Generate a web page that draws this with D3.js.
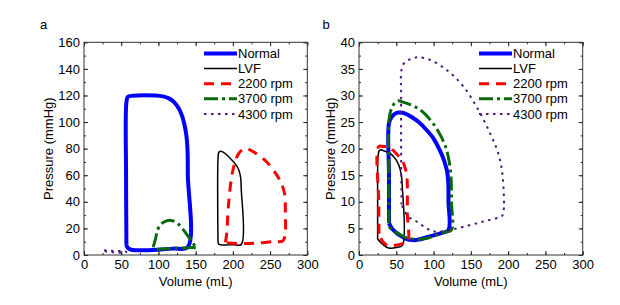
<!DOCTYPE html>
<html><head><meta charset="utf-8">
<script src="https://cdn.jsdelivr.net/npm/d3@7"></script>
<style>
html,body{margin:0;padding:0;background:#fff;}
svg{display:block;font-family:"Liberation Sans",Arial,sans-serif;}
</style></head>
<body><svg id="c" width="620" height="305"></svg>
<script>
// ---------- data ----------
const seriesNames = ["Normal", "LVF", "2200 rpm", "3700 rpm", "4300 rpm"];
const xTicks = [0, 50, 100, 150, 200, 250, 300];
const yTicksA = [0, 20, 40, 60, 80, 100, 120, 140, 160];
const yTicksB = [0, 5, 10, 15, 20, 25, 30, 35, 40];

// Panel a: [volume (mL), pressure (mmHg)]
const normalA = [[57,8],[56.5,60],[57,115],[59,119],[65,119.8],[96,120],[106,119.3],[114,117.8],[121,115],[127,110.5],[131.5,105],[135,98],[137.5,90],[139,80],[139.5,60],[139.5,6],[120,4.8],[100,4],[75,3.6],[62,4.3],[58,6],[57,8]];
const lvfA = [[180,10],[179.6,40],[180,72],[181,77],[183,78],[188,77],[196,73],[204,68],[208,64],[210.5,58],[211.2,50],[211.4,8],[200,7.7],[185,7.6],[181,8.2],[180,10]];
const rpm2200A = [[190,9.5],[191.7,16],[193.9,36],[198.4,59],[203,70],[208,76.5],[214,79.5],[219,80],[227.5,77.7],[245.5,70],[258,61],[265,54],[269.5,46],[270.5,31],[270,14],[267,10.5],[254,10],[230,8.8],[209,8.6],[195,9],[190,9.5]];
const rpm3700A = [[93,6],[96,12],[99,19],[103,23],[110,25.5],[117,26],[124,24.5],[132,20],[140,14],[146,9],[151.5,5.2],[147,5.6],[135,5.3],[118,5],[102,4.3],[95,4.6],[93,6]];
const rpm4300A = [[27,3.5],[35,3.2],[45,3],[55,2.8],[57,2.2],[50,1.8],[40,2],[30,2.6],[27,3.5]];

// Panel b
const normalB = [[40.2,6],[40.2,15],[40.2,24.8],[44,26],[50,26.7],[55,26.8],[62,26.6],[70,26],[80,25],[90,23.6],[100,21.9],[108,19.8],[114,17.8],[118,15.8],[119.8,13.5],[120,10],[120,4.7],[110,4.1],[100,3.7],[90,3.3],[80,2.9],[72,2.8],[64,3],[56,3.6],[50,4.2],[44,5],[40.2,6]];
const lvfB = [[25,3],[25,10],[25.5,18.5],[27,19.6],[29,19.8],[33,19.6],[41.6,19.1],[47,18.4],[51,17.6],[55,16.2],[57.2,14.5],[58,13],[58.2,1.8],[50,1.4],[42.5,1.25],[37,1.45],[30,2.2],[25,3]];
const rpm2200B = [[26.8,4],[26.5,10],[26.5,20.4],[33,20.4],[40.5,20.4],[45,19.8],[50,19.1],[55,18.3],[59,17.5],[62,16.3],[64,15],[64.8,13],[64.8,8],[65.5,2.5],[60,2.2],[55,2.0],[48,1.8],[41.6,1.6],[35,2.1],[30.4,2.8],[26.8,4]];
const rpm3700B = [[40,6],[40,15],[40,25],[43,27.3],[48,28.6],[53,29],[60,28.7],[70,28.2],[80,27.5],[90,26.3],[100,24.6],[110,22.3],[117,20],[121,17.5],[123.5,14.5],[124,10],[124,4.7],[115,4.3],[105,3.8],[95,3.3],[85,3],[77,2.9],[68,3.1],[60,3.4],[53,4],[46,4.6],[41,5.2],[40,6]];
const rpm4300B = [[57,9.5],[56.5,20],[56.5,30],[57,34.8],[61.7,36.3],[72.8,37],[79.5,37.2],[95.2,36.7],[117.6,34.8],[140,31.7],[160,27.3],[175.7,22.9],[186.8,19.1],[192.7,14.7],[193.5,7.8],[191.4,7.3],[166.7,6.3],[140,5.3],[122,4.7],[101.9,4.4],[90.8,5],[77.4,6.3],[66,7.2],[57,9.5]];

// ---------- styles ----------
const styles = [
  {color:"#0000ff", width:4, dash:null},
  {color:"#000000", width:1.5, dash:null},
  {color:"#ff0000", width:3, dash:"10,7"},
  {color:"#0a6a0a", width:3, dash:"14,4,3,4"},
  {color:"#4e1a7e", width:2, dash:"2.5,4.5"}
];

const svg = d3.select("#c");
const FONT = "Liberation Sans, Arial, sans-serif";

function panel(cfg) {
  const g = svg.append("g");
  const x = d3.scaleLinear().domain([0,300]).range([cfg.left, cfg.right]);
  const y = d3.scaleLinear().domain(cfg.yDomain).range([255, 42.3]);

  // series
  const line = d3.line().x(d => x(d[0])).y(d => y(d[1])).curve(d3.curveCatmullRom.alpha(0.5));
  cfg.series.forEach((s, i) => {
    const st = styles[i];
    g.append("path").attr("d", line(s)).attr("fill","none")
      .attr("stroke", st.color).attr("stroke-width", st.width)
      .attr("stroke-dasharray", st.dash).attr("stroke-linejoin","round");
  });

  // axes with inward ticks on all sides
  const minorX = d3.range(0, 301, 25);
  const minorY = d3.range(cfg.yDomain[0], cfg.yDomain[1] + 0.001, cfg.minorStep);
  const axStyle = sel => { sel.select(".domain").remove(); sel.selectAll("line").attr("stroke","#222"); };
  const txtStyle = s => s.selectAll("text").attr("font-size",13).attr("fill","#000").attr("font-family",FONT);

  g.append("g").attr("transform","translate(0,255)")
    .call(d3.axisBottom(x).tickValues(minorX).tickSize(-2).tickFormat(""))
    .call(axStyle);
  g.append("g").attr("transform","translate(0,255)")
    .call(d3.axisBottom(x).tickValues(xTicks).tickSize(-4).tickPadding(4.5).tickFormat(d3.format("d")))
    .call(axStyle).call(txtStyle);
  g.append("g").attr("transform","translate(0,42.3)")
    .call(d3.axisTop(x).tickValues(minorX).tickSize(-2).tickFormat("")).call(axStyle);
  g.append("g").attr("transform","translate(0,42.3)")
    .call(d3.axisTop(x).tickValues(xTicks).tickSize(-4).tickFormat("")).call(axStyle);

  g.append("g").attr("transform",`translate(${cfg.left},0)`)
    .call(d3.axisLeft(y).tickValues(minorY).tickSize(-2).tickFormat("")).call(axStyle);
  g.append("g").attr("transform",`translate(${cfg.left},0)`)
    .call(d3.axisLeft(y).tickValues(cfg.yTicks).tickSize(-4).tickPadding(4).tickFormat(d3.format("d")))
    .call(axStyle).call(txtStyle);
  g.append("g").attr("transform",`translate(${cfg.right},0)`)
    .call(d3.axisRight(y).tickValues(minorY).tickSize(-2).tickFormat("")).call(axStyle);
  g.append("g").attr("transform",`translate(${cfg.right},0)`)
    .call(d3.axisRight(y).tickValues(cfg.yTicks).tickSize(-4).tickFormat("")).call(axStyle);

  // frame
  g.append("rect").attr("x", cfg.left).attr("y", 42.3)
    .attr("width", cfg.right - cfg.left).attr("height", 255 - 42.3)
    .attr("fill","none").attr("stroke","#333").attr("stroke-width",1);

  // titles
  g.append("text").attr("x",(cfg.left+cfg.right)/2).attr("y",286)
    .attr("text-anchor","middle").attr("font-size",13).text("Volume (mL)");
  g.append("text").attr("transform",`translate(${cfg.yTitleX},148.7) rotate(-90)`)
    .attr("text-anchor","middle").attr("font-size",13).text("Pressure (mmHg)");
  g.append("text").attr("x",cfg.labelX).attr("y",29.3).attr("font-size",13).text(cfg.label);

  // legend
  seriesNames.forEach((n, i) => {
    const st = styles[i];
    const ry = 53.5 + 15.1 * i;
    g.append("line").attr("x1", cfg.legX).attr("x2", cfg.legX + 33)
      .attr("y1", ry).attr("y2", ry).attr("stroke", st.color)
      .attr("stroke-width", st.width).attr("stroke-dasharray", st.dash);
    g.append("text").attr("x", cfg.legX + 34).attr("y", ry + 4.6)
      .attr("font-size",13).text(n);
  });
}

panel({left:84, right:307.3, yDomain:[0,160], yTicks:yTicksA, minorStep:10,
  series:[normalA, lvfA, rpm2200A, rpm3700A, rpm4300A],
  yTitleX:52.5, label:"a", labelX:40, legX:204});
panel({left:359, right:582.7, yDomain:[0,40], yTicks:yTicksB, minorStep:2.5,
  series:[normalB, lvfB, rpm2200B, rpm3700B, rpm4300B],
  yTitleX:334.5, label:"b", labelX:322.5, legX:479});
</script></body></html>
